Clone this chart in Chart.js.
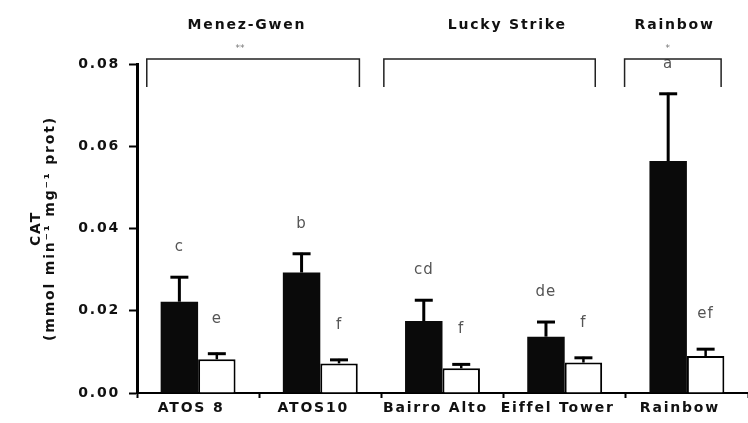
<!DOCTYPE html>
<html>
<head>
<meta charset="utf-8">
<script src="https://cdn.jsdelivr.net/npm/chart.js@4"></script>
<style>
  html, body { margin: 0; padding: 0; background: #fff; overflow: hidden; }
</style>
</head>
<body>
<canvas id="myChart" width="748" height="423"></canvas>
<script>
var sites = ['ATOS 8', 'ATOS10', 'Bairro Alto', 'Eiffel Tower', 'Rainbow'];

// CAT activity, mean and SE (dark = first tissue, open = second tissue)
var darkMean = [0.0222, 0.0293, 0.0175, 0.0137, 0.0564];
var darkErr = [0.0062, 0.0048, 0.0053, 0.0038, 0.0166];
var lightMean = [0.0082, 0.0072, 0.0060, 0.0074, 0.0090];
var lightErr = [0.0016, 0.0011, 0.0012, 0.0014, 0.0019];
var darkLetters = ['c', 'b', 'cd', 'de', 'a'];
var lightLetters = ['e', 'f', 'f', 'f', 'ef'];
var yTicks = [0, 0.02, 0.04, 0.06, 0.08];

// vent fields grouping the sites (spans in category units)
var fields = ['Menez-Gwen', 'Lucky Strike', 'Rainbow'];
var fieldStars = ['**', '', '*'];
var fieldFrom = [-0.42, 1.52, 3.49];
var fieldTo = [1.32, 3.25, 4.28];
var fieldLabelAt = [0.40, 2.53, 3.90];

var ctx = document.getElementById('myChart').getContext('2d');
var boldFont = { family: 'DejaVu Sans', size: 14, weight: 'bold' };
var spacing = '1.8px';

var extras = {
    id: 'extras',
    beforeLayout: function(chart) { chart.ctx.letterSpacing = spacing; },
    beforeDraw: function(chart) { chart.ctx.letterSpacing = spacing; },
    afterDatasetsDraw: function(chart) {
        var c = chart.ctx, ys = chart.scales.y;
        var sets = [[darkMean, darkErr, darkLetters, 29, 3], [lightMean, lightErr, lightLetters, 34, 2.5]];
        c.save();
        c.strokeStyle = '#000';
        c.fillStyle = '#555';
        c.font = '15px "DejaVu Sans"';
        c.letterSpacing = '1px';
        c.textAlign = 'center';
        c.textBaseline = 'middle';
        sets.forEach(function(s, i) {
            var meta = chart.getDatasetMeta(i);
            meta.data.forEach(function(bar, j) {
                var top = ys.getPixelForValue(s[0][j] + s[1][j]);
                c.lineWidth = s[4];
                c.beginPath();
                c.moveTo(bar.x, bar.y);
                c.lineTo(bar.x, top);
                c.stroke();
                c.lineWidth = 3;
                c.beginPath();
                c.moveTo(bar.x - 9, top + 1);
                c.lineTo(bar.x + 9, top + 1);
                c.stroke();
                c.fillText(s[2][j], bar.x, top - s[3]);
            });
        });
        c.restore();
    },
    afterDraw: function(chart) {
        var c = chart.ctx, xs = chart.scales.x, ys = chart.scales.y;
        var x0 = xs.getPixelForValue(0);
        var step = xs.getPixelForValue(1) - x0;
        var top = ys.getPixelForValue(0.0812);
        var leg = ys.getPixelForValue(0.0744);
        c.save();
        c.strokeStyle = '#222';
        c.lineWidth = 1.5;
        c.textAlign = 'center';
        c.textBaseline = 'middle';
        for (var i = 0; i < fields.length; i++) {
            var a = x0 + fieldFrom[i] * step, b = x0 + fieldTo[i] * step;
            var mid = x0 + fieldLabelAt[i] * step;
            c.beginPath();
            c.moveTo(a, leg);
            c.lineTo(a, top);
            c.lineTo(b, top);
            c.lineTo(b, leg);
            c.stroke();
            c.fillStyle = '#111';
            c.font = 'bold 14px "DejaVu Sans"';
            c.letterSpacing = spacing;
            c.fillText(fields[i], mid, ys.getPixelForValue(0.0895));
            c.fillStyle = '#777';
            c.font = '9px "DejaVu Sans"';
            c.letterSpacing = '0px';
            c.fillText(fieldStars[i], mid - 7, ys.getPixelForValue(0.0838));
        }
        c.restore();
    }
};

var myChart = new Chart(ctx, {
    type: 'bar',
    data: {
        labels: sites,
        datasets: [{
            label: 'dark',
            data: darkMean,
            backgroundColor: '#0a0a0a',
            borderWidth: 0
        }, {
            label: 'open',
            data: lightMean,
            backgroundColor: '#fff',
            borderColor: '#000',
            borderWidth: 2
        }]
    },
    options: {
        responsive: false,
        animation: false,
        categoryPercentage: 0.613,
        barPercentage: 1.0,
        layout: { padding: { top: 64, right: -9, bottom: 0, left: 0 } },
        plugins: { legend: { display: false }, tooltip: { enabled: false } },
        scales: {
            x: {
                afterFit: function(s) { s.height = 30; },
                ticks: { font: boldFont, color: '#111', padding: 2, labelOffset: -7, maxRotation: 0, autoSkip: false },
                grid: { drawOnChartArea: false, offset: true, tickLength: 5, tickWidth: 2, tickColor: '#000' },
                border: { color: '#000', width: 2 }
            },
            y: {
                min: 0,
                max: 0.08,
                afterFit: function(s) { s.width = 137; },
                afterBuildTicks: function(s) { s.ticks = yTicks.map(function(v) { return { value: v }; }); },
                ticks: {
                    font: boldFont,
                    color: '#111',
                    padding: 9,
                    callback: function(v) { return v.toFixed(2); }
                },
                grid: { drawOnChartArea: false, tickLength: 8, tickWidth: 2, tickColor: '#000' },
                border: { color: '#000', width: 3 },
                title: {
                    display: true,
                    text: ['CAT', '(mmol min\u207B\u00B9 mg\u207B\u00B9 prot)'],
                    font: { family: 'DejaVu Sans', size: 14, weight: 'bold', lineHeight: 1.0 },
                    color: '#111',
                    padding: { top: 29, bottom: 0 }
                }
            }
        }
    },
    plugins: [extras]
});
</script>
</body>
</html>
